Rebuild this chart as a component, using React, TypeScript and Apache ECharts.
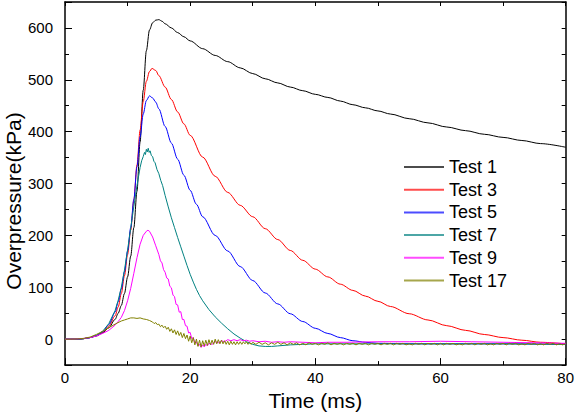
import React, { useEffect, useRef } from 'react';
import * as echarts from 'echarts';

const seriesNames = ['Test 1', 'Test 3', 'Test 5', 'Test 7', 'Test 9', 'Test 17'];
const seriesColors = ['#000000', '#ff0000', '#0000ff', '#008080', '#ff00ff', '#808000'];

const test1: [number, number][] = [[0,0],[1,0],[2,0],[3,1],[4,3],[5,6],[6,12],[7,22],[8,38],[8.5,50],[9,65],[9.5,88],[10,120],[10.5,160],[11,215],[11.5,285],[12,380],[12.5,480],[13,556],[13.5,596],[14,610],[14.5,615],[15,616],[15.5,613],[16,608],[17,600],[18,591],[19,583],[20,575],[22,560],[24,547],[26,535],[28,523],[30,512],[32,502],[34,494],[36,486],[38,479],[40,472],[42,466],[44,459],[46,452],[48,446],[50,440],[52,434],[55,425],[58,417],[61,409],[64,402],[67,395],[70,389],[73,383],[76,377],[80,370]];

const test3: [number, number][] = [[0,0],[1,0],[2,0],[3,1],[4,3],[5,7],[6,13],[7,25],[8,45],[8.5,62],[9,88],[9.5,122],[10,163],[10.5,210],[11,268],[11.5,336],[12,403],[12.5,458],[13,497],[13.5,516],[13.9,522],[14.5,518],[15,508],[16,486],[17,462],[18,438],[19,415],[20,393],[22,351],[24,314],[26,283],[28,258],[30,236],[32,213],[34,192],[36,171],[38,152],[40,135],[42,120],[44,106],[46,94],[48,83],[50,73],[52,63],[55,49],[58,37],[61,26],[64,17],[67,9],[70,3],[73,-2],[76,-6],[80,-9]];

const test5: [number, number][] = [[0,0],[1,0],[2,0],[3,1],[4,3],[5,7],[6,14],[7,28],[8,52],[8.5,72],[9,97],[9.5,130],[10,170],[10.5,215],[11,270],[11.5,332],[12,390],[12.5,434],[13,460],[13.5,469],[14,465],[14.5,457],[15,444],[16,410],[17,378],[18,347],[19,316],[20,287],[21,260],[22,236],[24,200],[26,170],[28,140],[30,113],[32,89],[34,68],[36,49],[38,34],[40,21],[42,11],[44,3],[46,-3],[48,-6],[50,-8],[55,-9],[60,-9],[70,-9],[80,-10]];

const test7: [number, number][] = [[0,0],[1,0],[2,0],[3,1],[4,3],[5,7],[6,15],[7,30],[8,55],[8.5,75],[9,100],[9.5,133],[10,172],[10.5,214],[11,256],[11.5,296],[12,331],[12.25,344],[12.5,352],[12.7,360],[12.85,356],[13,366],[13.15,361],[13.3,368],[13.45,360],[13.6,363],[13.8,354],[14,352],[14.2,343],[14.4,340],[14.7,327],[15,319],[15.3,306],[15.6,296],[16,277],[16.5,255],[17,234],[17.5,215],[18,196],[18.5,178],[19,160],[19.5,142],[20,125],[20.5,110],[21,96],[21.5,84],[22,74],[23,57],[24,43],[25,31],[26,20],[27,10],[28,2],[29,-5],[30,-10],[31,-13],[32,-14],[33,-14],[34,-13],[36,-11],[38,-10],[40,-9],[45,-9],[50,-9],[60,-9],[70,-9],[80,-10]];

const test9: [number, number][] = [[0,0],[1,0],[2,0.5],[3,1.5],[4,3],[5,6],[6,11],[7,17],[8,27],[8.5,34],[9,42],[9.5,55],[10,74],[10.5,98],[11,127],[11.5,157],[12,183],[12.5,200],[13,208],[13.25,210],[13.5,208],[14,197],[14.5,180],[15,163],[15.25,151],[15.5,147],[15.75,134],[16,129],[16.25,118],[16.5,116],[16.75,102],[17,99],[17.25,85],[17.5,82],[17.75,67],[18,66],[18.25,52],[18.5,53],[18.75,38],[19,38],[19.25,26],[19.5,25],[19.75,12],[20,13],[20.25,1],[20.5,3],[20.75,-7],[21,-5],[21.25,-13],[21.5,-10],[21.75,-16],[22,-11],[22.25,-15],[22.5,-10],[22.75,-13],[23,-8],[23.5,-10],[24,-5],[24.5,-7],[25,-3],[25.5,-5],[26,-1],[26.5,-3],[27,-1],[27.5,-3],[28,-1],[28.5,-3],[29,-2],[29.5,-4],[30,-3],[31,-5],[32,-4],[33,-6],[34,-5],[35,-6],[36,-5],[38,-6],[40,-7],[42,-6],[45,-6],[50,-5],[55,-5],[60,-4],[65,-5],[70,-6],[75,-7],[80,-8]];

const test17: [number, number][] = [[0,0],[1,0],[2,0.5],[3,1.5],[4,4],[5,9],[6,15],[7,22],[8,29],[9,35],[9.5,37],[10,39],[10.5,41],[11,41],[11.5,40],[12,41],[12.5,39],[13,38],[13.5,36],
[14,33],[14.25,30],[14.5,32],[14.75,28],[15,29],[15.25,24],[15.5,27],[15.75,22],[16,25],[16.25,19],[16.5,23],[16.75,15],[17,20],[17.25,12],[17.5,18],[17.75,9],[18,16],[18.25,7],[18.5,13],[18.75,3],[19,11],[19.25,1],[19.5,8],[19.75,-4],[20,6],[20.25,-7],[20.5,3],[20.75,-11],[21,0],[21.25,-14],[21.5,-2],[21.75,-15],[22,-3],[22.25,-13],[22.5,-2],[22.75,-12],[23,-1],[23.25,-11],[23.5,-2],[23.75,-10],[24,0],[24.25,-9],[24.5,-1],[24.75,-9],[25,-2],[25.25,-9],[25.5,-3],[25.75,-10],[26,-4],[26.25,-11],[26.5,-4],[26.75,-10],[27,-5],[27.25,-11],[27.5,-5],[27.75,-10],[28,-5],[28.25,-10],[28.5,-5],[28.75,-9],[29,-5],[29.25,-10],[29.5,-6],[29.75,-10],[30,-6],
[30.5,-10],[31,-6],[31.5,-10],[32,-7],[32.5,-11],[33,-7],[33.5,-10],[34,-6],[34.5,-10],[35,-7],[35.5,-11],[36,-7],[36.5,-10],[37,-7],[37.5,-11],[38,-8],[38.5,-11],[39,-7],[39.5,-10],[40,-8],
[40.5,-11],[41,-8],[41.5,-10],[42,-7],[42.5,-11],[43,-8],[43.5,-10],[44,-8],[44.5,-11],[45,-8],[45.5,-10],[46,-8],[46.5,-11],[47,-8],[47.5,-10],[48,-8],[48.5,-11],[49,-8],[49.5,-10],[50,-8],
[50.5,-11],[51,-8],[51.5,-10],[52,-8],[52.5,-11],[53,-8],[53.5,-10],[54,-8],[54.5,-11],[55,-9],[55.5,-11],[56,-8],[56.5,-10],[57,-8],[57.5,-11],[58,-8],[58.5,-10],[59,-8],[59.5,-11],[60,-8],
[60.5,-11],[61,-8],[61.5,-10],[62,-8],[62.5,-11],[63,-9],[63.5,-11],[64,-8],[64.5,-10],[65,-8],[65.5,-11],[66,-8],[66.5,-10],[67,-8],[67.5,-11],[68,-9],[68.5,-11],[69,-8],[69.5,-10],[70,-8],
[70.5,-11],[71,-8],[71.5,-10],[72,-8],[72.5,-11],[73,-9],[73.5,-11],[74,-8],[74.5,-10],[75,-8],[75.5,-11],[76,-9],[76.5,-11],[77,-8],[77.5,-10],[78,-8],[78.5,-11],[79,-9],[79.5,-11],[80,-9]];

const seriesData = [test1, test3, test5, test7, test9, test17];
const smoothFlags = [0.3, 0.3, 0.3, false, false, false];

const xMin = 0, xMax = 80, xMajor = 20, xTop = 10;
const yMin = -50, yMax = 650, yMinor = 50;
const yAxisTitle = 'Overpressure(kPa)';
const xAxisTitle = 'Time (ms)';

const font = '"Liberation Sans", Arial, sans-serif';

function tickAxis(len: number) {
  return { show: true, inside: true, length: len, lineStyle: { color: '#000000', width: 1 } };
}
function frameLine(show: boolean) {
  return { show, onZero: false, lineStyle: { color: '#000000', width: 1.5 } };
}

export default function App() {
  const ref = useRef<HTMLDivElement>(null);
  useEffect(() => {
    if (!ref.current) return;
    const chart = echarts.init(ref.current, null, { renderer: 'svg' });
    chart.setOption({
      animation: false,
      grid: { left: 65, right: 9, top: 2, bottom: 43 },
      xAxis: [
        {
          type: 'value', min: xMin, max: xMax, interval: xMajor, position: 'bottom',
          axisLine: frameLine(true),
          axisTick: tickAxis(7),
          minorTick: { show: true, splitNumber: 2, length: 4, lineStyle: { color: '#000000', width: 1 } },
          splitLine: { show: false }, minorSplitLine: { show: false },
          axisLabel: { show: true, color: '#000000', fontSize: 15, fontFamily: font, margin: 5 },
          name: xAxisTitle, nameLocation: 'middle', nameGap: 20,
          nameTextStyle: { color: '#000000', fontSize: 21, fontFamily: font },
        },
        {
          type: 'value', min: xMin, max: xMax, interval: xTop, position: 'top',
          axisLine: frameLine(true),
          axisTick: tickAxis(4),
          axisLabel: { show: false }, splitLine: { show: false },
        },
      ],
      yAxis: [
        {
          type: 'value', min: yMin, max: yMax, splitNumber: 7, position: 'left',
          axisLine: frameLine(true),
          axisTick: tickAxis(7),
          splitLine: { show: false },
          axisLabel: {
            show: true, color: '#000000', fontSize: 15, fontFamily: font, margin: 12,
            formatter: (v: number) => (v % 100 === 0 && v >= 0 && v <= 600 ? String(v) : ''),
          },
        },
        {
          type: 'value', min: yMin, max: yMax, interval: yMinor, position: 'left',
          axisLine: frameLine(false),
          axisTick: tickAxis(4),
          axisLabel: { show: false }, splitLine: { show: false },
        },
        {
          type: 'value', min: yMin, max: yMax, interval: yMinor, position: 'right',
          axisLine: frameLine(true),
          axisTick: tickAxis(4),
          axisLabel: { show: false }, splitLine: { show: false },
        },
      ],
      legend: {
        orient: 'vertical', left: 404, top: 158, padding: 0,
        itemWidth: 40, itemHeight: 2, itemGap: 4.7,
        icon: 'rect',
        data: seriesNames,
        textStyle: { color: '#000000', fontSize: 18, fontFamily: font },
      },
      graphic: {
        elements: [
          {
            type: 'text', x: 13, y: 201, rotation: Math.PI / 2,
            style: {
              text: yAxisTitle, fill: '#000000', font: '21px "Liberation Sans", Arial, sans-serif',
              align: 'center', verticalAlign: 'middle',
            },
          },
        ],
      },
      series: seriesNames.map((name, i) => ({
        name, type: 'line', data: seriesData[i], xAxisIndex: 0, yAxisIndex: 0,
        symbol: 'none', smooth: smoothFlags[i], smoothMonotone: 'x',
        lineStyle: { color: seriesColors[i], width: 1 },
        itemStyle: { color: seriesColors[i], opacity: 0.7 },
      })),
    });
    return () => chart.dispose();
  }, []);
  return <div ref={ref} style={{ position: 'absolute', left: 0, top: 0, width: 577, height: 416 }} />;
}
